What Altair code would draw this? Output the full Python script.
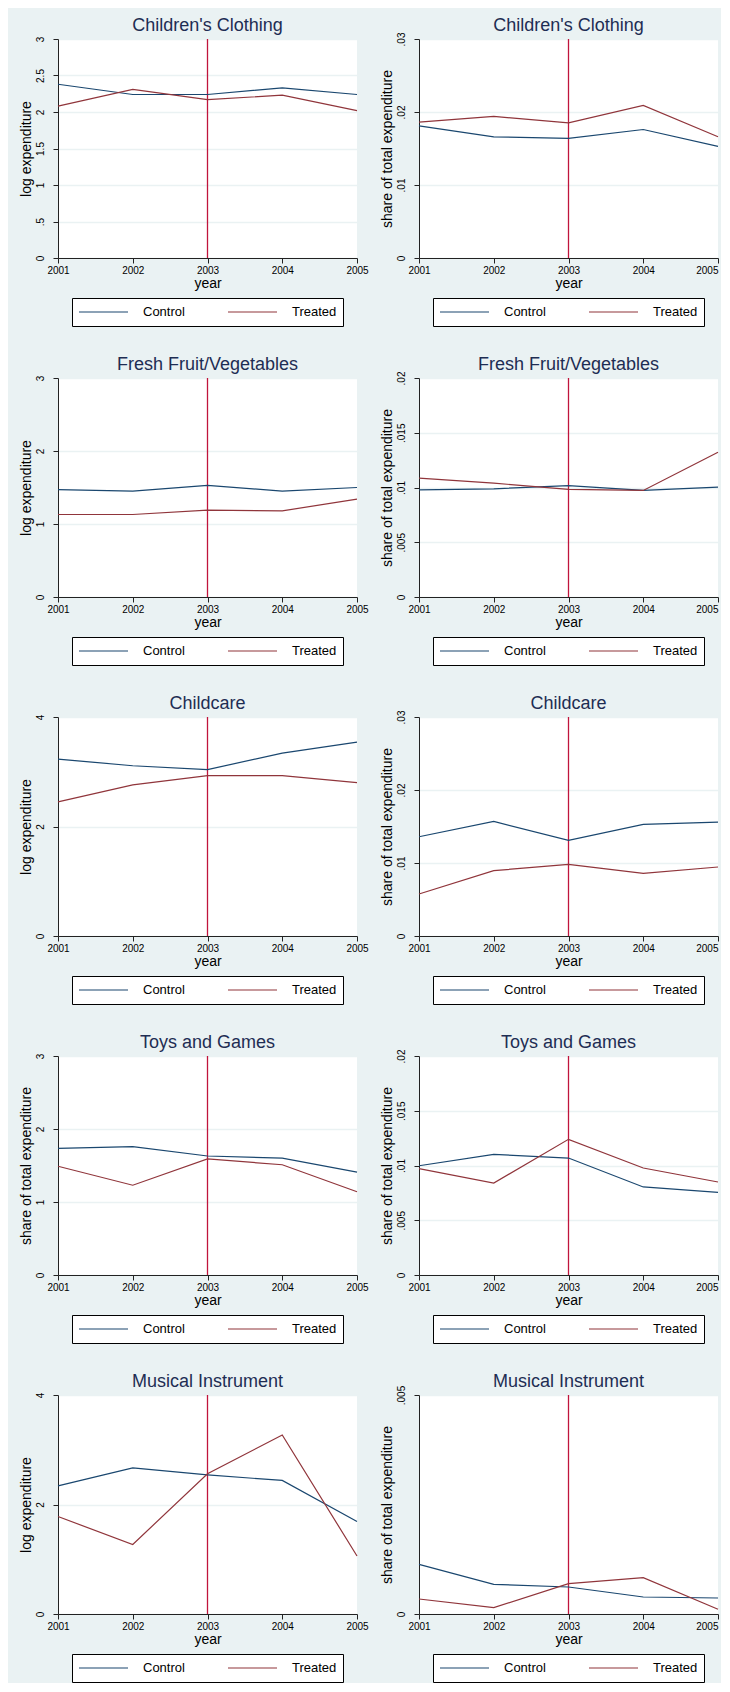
import altair as alt
import pandas as pd

# ---------------- data ----------------
years = [2001, 2002, 2003, 2004, 2005]
groups = ["Control", "Treated"]
event_year = [2003]

titles = ["Children's Clothing", "Children's Clothing",
          "Fresh Fruit/Vegetables", "Fresh Fruit/Vegetables",
          "Childcare", "Childcare",
          "Toys and Games", "Toys and Games",
          "Musical Instrument", "Musical Instrument"]

y_titles = ["log expenditure", "share of total expenditure",
            "log expenditure", "share of total expenditure",
            "log expenditure", "share of total expenditure",
            "share of total expenditure", "share of total expenditure",
            "log expenditure", "share of total expenditure"]

y_ticks = [
    [0, 0.5, 1, 1.5, 2, 2.5, 3],
    [0, 0.01, 0.02, 0.03],
    [0, 1, 2, 3],
    [0, 0.005, 0.01, 0.015, 0.02],
    [0, 2, 4],
    [0, 0.01, 0.02, 0.03],
    [0, 1, 2, 3],
    [0, 0.005, 0.01, 0.015, 0.02],
    [0, 2, 4],
    [0, 0.005],
]

control_vals = [
    [2.38, 2.24, 2.24, 2.33, 2.24],
    [0.0181, 0.0166, 0.0164, 0.0176, 0.0153],
    [1.47, 1.45, 1.53, 1.45, 1.50],
    [0.00979, 0.00988, 0.01018, 0.00973, 0.01003],
    [3.23, 3.11, 3.04, 3.34, 3.54],
    [0.0136, 0.0157, 0.0131, 0.0153, 0.0156],
    [1.735, 1.758, 1.63, 1.60, 1.41],
    [0.00998, 0.01102, 0.01068, 0.00804, 0.00755],
    [2.34, 2.67, 2.54, 2.44, 1.69],
    [0.001134, 0.000677, 0.000616, 0.000388, 0.000365],
]

treated_vals = [
    [2.08, 2.31, 2.17, 2.23, 2.02],
    [0.0186, 0.0194, 0.0185, 0.0209, 0.0166],
    [1.13, 1.13, 1.19, 1.18, 1.34],
    [0.01085, 0.0104, 0.00982, 0.00973, 0.01322],
    [2.45, 2.76, 2.93, 2.93, 2.80],
    [0.00575, 0.00895, 0.00982, 0.00858, 0.00945],
    [1.49, 1.23, 1.59, 1.51, 1.14],
    [0.00971, 0.0084, 0.01239, 0.00977, 0.00849],
    [1.78, 1.27, 2.56, 3.27, 1.06],
    [0.000342, 0.000145, 0.000693, 0.00083, 0.000107],
]

# ---------------- style ----------------
FONT = "Liberation Sans"
BG = "#EAF2F3"
C_CONTROL = "#1A476F"
C_TREATED = "#90353B"
C_RULE = "#C0143C"
PW, PH = 299, 219
TICK_FS = 10

LABEL_EXPR = ("datum.value > 0 && datum.value < 1 ? "
              "slice(format(datum.value, '~g'), 1) : format(datum.value, '~g')")


def tick_text(v):
    s = ("%g" % v)
    if 0 < v < 1:
        s = s[1:]
    return s


def text_width(s, fs):
    w = 0.0
    for ch in s:
        w += 0.278 if ch == "." else 0.556
    return w * fs


def panel(i):
    df = pd.DataFrame({
        "year": years * 2,
        "value": control_vals[i] + treated_vals[i],
        "group": [groups[0]] * len(years) + [groups[1]] * len(years),
    })
    ymax = y_ticks[i][-1]
    # rotated top tick label sticks out above the plot by half its length;
    # compensate so every title sits at the same distance above the plot
    title_dy = text_width(tick_text(ymax), TICK_FS) / 2 + 0.5
    right_col = (i % 2 == 1)
    x_axis_kw = dict(values=years, format="d", title="year", grid=False,
                     labelFontSize=TICK_FS, titleFontSize=14, labelPadding=2,
                     titlePadding=1, labelFlush=False, labelOverlap=False)
    if right_col:
        # keep the last year label inside the page width
        x_axis_kw["labelAlign"] = {
            "condition": {"test": "datum.value == %d" % years[-1], "value": "right"},
            "value": "center",
        }
    x_enc = alt.X(
        "year:Q",
        scale=alt.Scale(domain=[years[0], years[-1]], nice=False, zero=False),
        axis=alt.Axis(**x_axis_kw),
    )
    lines = alt.Chart(df).mark_line(strokeWidth=1.2).encode(
        x=x_enc,
        y=alt.Y(
            "value:Q",
            scale=alt.Scale(domain=[0, ymax], nice=False, zero=True),
            axis=alt.Axis(values=y_ticks[i], title=y_titles[i], labelAngle=270,
                          labelExpr=LABEL_EXPR, grid=True, gridColor=BG,
                          gridWidth=1.5, labelFontSize=TICK_FS, titleFontSize=14,
                          labelPadding=8, titlePadding=2, labelOverlap=False,
                          labelFlush=False),
        ),
        color=alt.Color(
            "group:N",
            scale=alt.Scale(domain=groups, range=[C_CONTROL, C_TREATED]),
            legend=alt.Legend(
                title=None, orient="none", legendX=14, legendY=259,
                direction="horizontal", symbolType="stroke", symbolSize=2401,
                symbolStrokeWidth=1.2, labelFontSize=13, labelFont=FONT,
                labelColor="black", labelOffset=14, columnPadding=42,
                padding=6, strokeColor="black", fillColor="white",
                clipHeight=16,
            ),
        ),
    )
    rule = alt.Chart(pd.DataFrame({"year": event_year})).mark_rule(
        color=C_RULE, strokeWidth=1.3
    ).encode(x=x_enc)
    return alt.layer(rule, lines).properties(
        width=PW, height=PH,
        title=alt.TitleParams(titles[i], fontSize=18, font=FONT, color="#1E2D53",
                              fontWeight="normal", anchor="middle", frame="group",
                              offset=4, dy=title_dy),
    ).resolve_scale(color="independent")


panels = [panel(i) for i in range(10)]

chart = alt.concat(
    *panels, columns=2, spacing={"row": 120, "column": 62}, bounds="flush"
).resolve_scale(
    x="independent", y="independent", color="independent"
).resolve_legend(color="independent").properties(
    background=BG,
    padding={"left": 11, "top": 9, "right": 0, "bottom": 0},
).configure_view(
    stroke=None, fill="white"
).configure_axis(
    labelFont=FONT, titleFont=FONT, labelColor="black", titleColor="black",
    domainColor="#222", tickColor="#222", tickSize=5, domainWidth=1,
    titleFontWeight="normal",
)

chart.save("out.html", embed_options={"renderer": "svg", "actions": False})
